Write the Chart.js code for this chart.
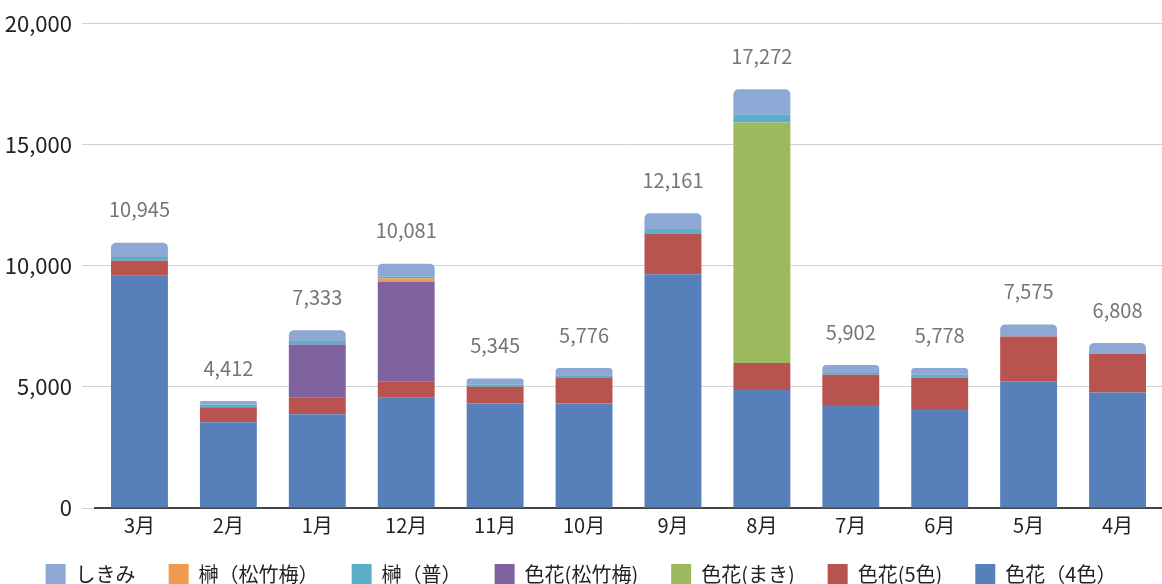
<!DOCTYPE html>
<html lang="ja">
<head>
<meta charset="utf-8">
<title>月別売上</title>
<script src="https://cdn.jsdelivr.net/npm/chart.js@4.4.1/dist/chart.umd.min.js"></script>
<style>
    html, body { margin: 0; padding: 0; background: #fff; overflow: hidden; }
    #wrap { width: 1162px; height: 594px; }
</style>
</head>
<body>
<div id="wrap"><canvas id="graphique"></canvas></div>
<script>
// Données
const mois = ['3月', '2月', '1月', '12月', '11月', '10月', '9月', '8月', '7月', '6月', '5月', '4月'];
const iroka4 = [9580, 3537, 3864, 4549, 4315, 4315, 9643, 4864, 4250, 4085, 5233, 4766];
const iroka5 = [620, 615, 684, 684, 684, 1053, 1680, 1119, 1243, 1284, 1844, 1598];
const irokaMaki = [0, 0, 0, 0, 0, 0, 0, 9917, 0, 0, 0, 0];
const irokaShochikubai = [0, 0, 2200, 4110, 0, 0, 0, 0, 0, 0, 0, 0];
const sakakiShochikubai = [0, 0, 0, 120, 0, 0, 0, 0, 0, 0, 0, 0];
const sakakiFutsu = [150, 120, 145, 80, 96, 108, 188, 320, 79, 129, 0, 0];
const shikimi = [595, 140, 440, 538, 250, 300, 650, 1052, 330, 280, 498, 444];
const yTicks = [0, 5000, 10000, 15000, 20000];

// Ordre de la légende (comme sur l'image)
const ordreLegende = ['しきみ', '榊（松竹梅）', '榊（普）', '色花(松竹梅)', '色花(まき)', '色花(5色)', '色花（4色）'];

const police = "'Noto Sans CJK JP', 'Noto Sans', sans-serif";

// Plugin pour afficher les totaux au-dessus des barres
const totauxPlugin = {
    id: 'totaux',
    afterDatasetsDraw(chart) {
        const ctx = chart.ctx;
        const derniere = chart.getDatasetMeta(chart.data.datasets.length - 1);
        ctx.save();
        ctx.font = '20px ' + police;
        ctx.fillStyle = '#757575';
        ctx.textAlign = 'center';
        ctx.textBaseline = 'middle';
        mois.forEach((m, i) => {
            let total = 0;
            chart.data.datasets.forEach(ds => { total += ds.data[i]; });
            const y = chart.scales.y.getPixelForValue(total);
            const x = derniere.data[i].x;
            ctx.fillText(total.toLocaleString('en-US'), x, y - 33);
        });
        ctx.restore();
    }
};

// L'axe x est réduit pour rapprocher la légende : on agrandit sa zone de découpe
const zoneEtiquettesPlugin = {
    id: 'zoneEtiquettes',
    afterLayout(chart) {
        chart.scales.x.bottom = chart.height;
    }
};

function creerGraphique() {
    const ctx = document.getElementById('graphique');

    new Chart(ctx, {
        type: 'bar',
        data: {
            labels: mois,
            datasets: [
                { label: '色花（4色）', data: iroka4, backgroundColor: '#5780BA' },
                { label: '色花(5色)', data: iroka5, backgroundColor: '#B9534F' },
                { label: '色花(まき)', data: irokaMaki, backgroundColor: '#9DB95E' },
                { label: '色花(松竹梅)', data: irokaShochikubai, backgroundColor: '#7F63A0' },
                { label: '榊（松竹梅）', data: sakakiShochikubai, backgroundColor: '#EF9A4E' },
                { label: '榊（普）', data: sakakiFutsu, backgroundColor: '#5BAEC7' },
                {
                    label: 'しきみ', data: shikimi, backgroundColor: '#8DA8D5',
                    borderRadius: { topLeft: 5, topRight: 5, bottomLeft: 0, bottomRight: 0 },
                    borderSkipped: false
                }
            ]
        },
        options: {
            responsive: true,
            maintainAspectRatio: false,
            animation: false,
            categoryPercentage: 1,
            barPercentage: 0.64,
            layout: { padding: { top: 6, right: 0, left: 0, bottom: 0 } },
            scales: {
                x: {
                    stacked: true,
                    grid: { display: false, drawTicks: false },
                    border: { display: true, color: '#444', width: 2 },
                    afterFit: axis => { axis.height = 23; },
                    ticks: { color: '#222', font: { family: police, size: 20 }, padding: 5 }
                },
                y: {
                    stacked: true,
                    min: 0,
                    max: 20000,
                    afterBuildTicks: axis => { axis.ticks = yTicks.map(v => ({ value: v })); },
                    afterFit: axis => { axis.width = 95; },
                    grid: { color: '#d0d0d0', tickLength: 13, tickColor: '#d0d0d0' },
                    border: { display: false },
                    ticks: {
                        color: '#222',
                        font: { family: police, size: 22 },
                        padding: 10,
                        callback: v => v.toLocaleString('en-US')
                    }
                }
            },
            plugins: {
                legend: {
                    position: 'bottom',
                    labels: {
                        font: { family: police, size: 20 },
                        color: '#222',
                        boxWidth: 20,
                        boxHeight: 20,
                        padding: 33,
                        sort: (a, b) => ordreLegende.indexOf(a.text) - ordreLegende.indexOf(b.text)
                    }
                },
                tooltip: { enabled: false }
            }
        },
        plugins: [totauxPlugin, zoneEtiquettesPlugin]
    });
}

document.addEventListener('DOMContentLoaded', creerGraphique);
</script>
</body>
</html>
